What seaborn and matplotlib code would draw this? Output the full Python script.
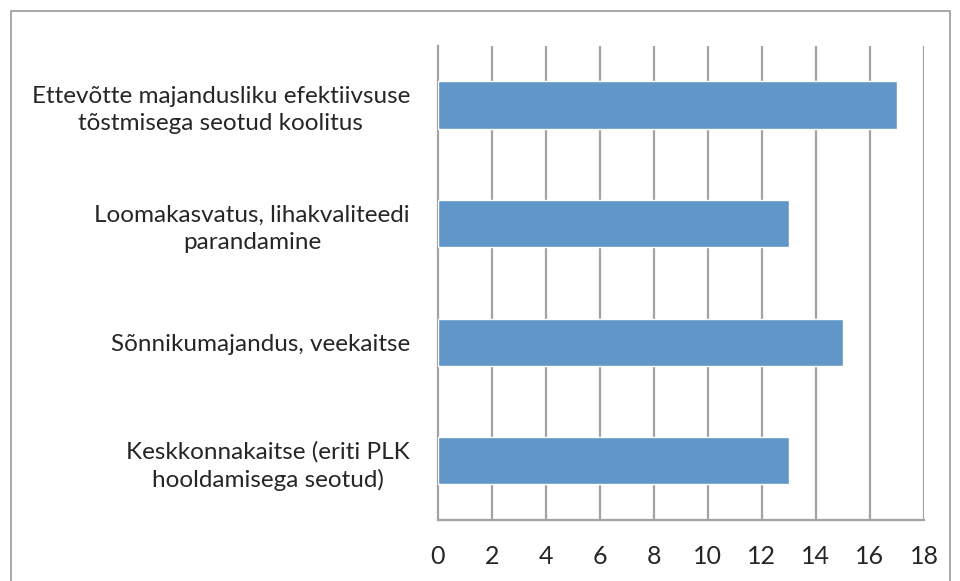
import numpy as np
import pandas as pd
import matplotlib
matplotlib.use("Agg")
import matplotlib.pyplot as plt
import seaborn as sns
from matplotlib.patches import Rectangle

categories = [
    "Ettevõtte majandusliku efektiivsuse\ntõstmisega seotud koolitus",
    "Loomakasvatus, lihakvaliteedi\nparandamine",
    "Sõnnikumajandus, veekaitse",
    "Keskkonnakaitse (eriti PLK\nhooldamisega seotud)",
]
values = [17, 13, 15, 13]
x_ticks = [0, 2, 4, 6, 8, 10, 12, 14, 16, 18]

bar_color = "#6096C8"
grid_color = "#A3A3A3"

sns.set_style("white")
plt.rcParams["font.family"] = ["Lato", "DejaVu Sans"]

df = pd.DataFrame({"kategooria": categories, "arv": values})

fig = plt.figure(figsize=(9.6, 5.81), dpi=100)
ax = fig.add_axes([0.456, 0.105, 0.5065, 0.816])

sns.barplot(data=df, x="arv", y="kategooria", orient="h", color=bar_color,
            width=0.4, saturation=1, ax=ax, zorder=3)

ax.set_xlim(0, 18)
ax.set_ylim(len(categories) - 0.5, -0.5)
ax.set_xticks(x_ticks)
ax.set_xticklabels([str(t) for t in x_ticks], fontsize=18)
ax.set_xlabel("")
ax.set_ylabel("")

# vertical gridlines
ax.grid(False)
for t in x_ticks[1:]:
    ax.axvline(t, color=grid_color, linewidth=1.6, zorder=1)

# category labels, centered lines, right aligned to axis
ax.set_yticks(range(len(categories)))
ax.set_yticklabels(categories, fontsize=17.5, ha="right", multialignment="center",
                   linespacing=1.35)
ax.tick_params(axis="y", which="major", length=0, pad=20)
ax.set_yticks(np.arange(-0.5, len(categories), 1.0), minor=True)
ax.tick_params(axis="y", which="minor", length=6, width=1.6, color=grid_color, direction="out")
ax.tick_params(axis="x", which="major", length=6, width=1.6, color=grid_color, direction="out", pad=12)

for side in ["top", "right"]:
    ax.spines[side].set_visible(False)
for side in ["left", "bottom"]:
    ax.spines[side].set_color(grid_color)
    ax.spines[side].set_linewidth(1.6)

# chart-area border
fig.patches.append(Rectangle((11 / 960, -0.05), 939 / 960, 1 - 11 / 581 + 0.05,
                             transform=fig.transFigure, fill=False,
                             edgecolor="#9A9A9A", linewidth=1.2))

fig.savefig("out.png", dpi=100)
